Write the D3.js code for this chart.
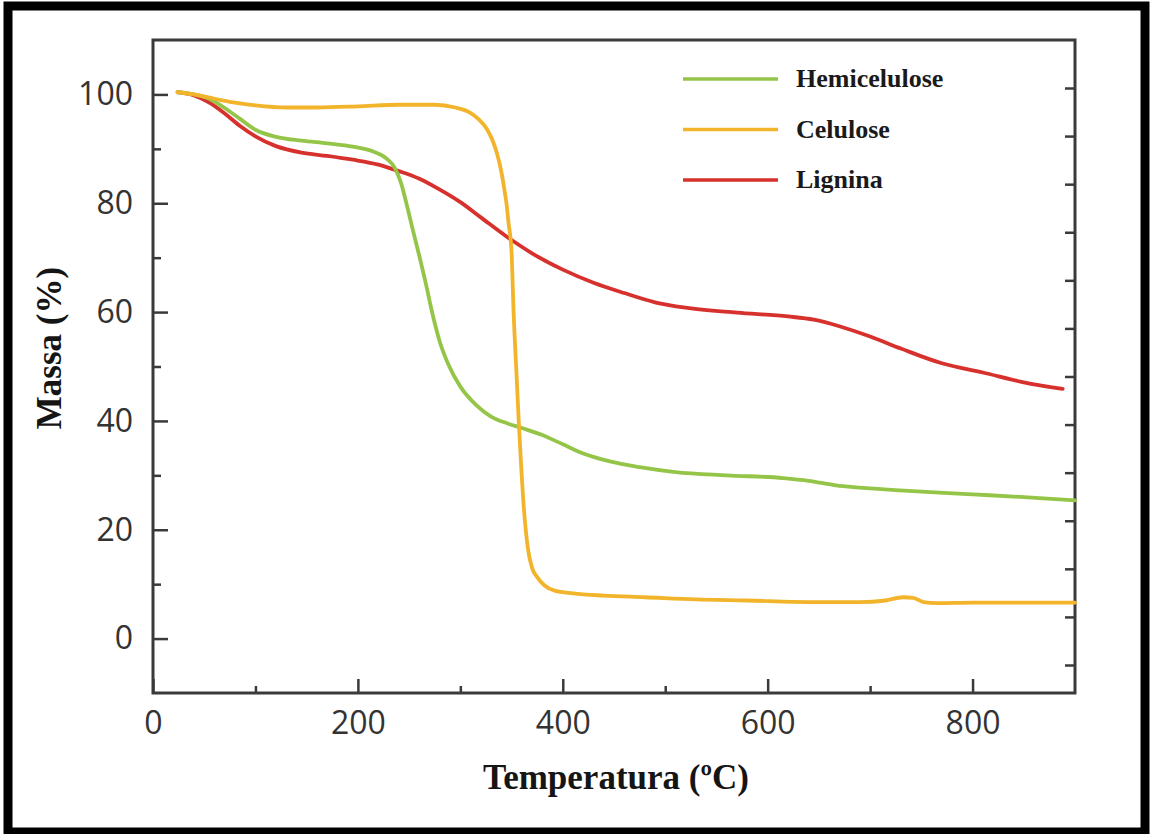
<!DOCTYPE html>
<html>
<head>
<meta charset="utf-8">
<script src="https://cdn.jsdelivr.net/npm/d3@7"></script>
<style>
  body { margin: 0; background: #fff; }
  .tick text { font-family: "Open Sans", sans-serif; font-size: 32px; fill: #333; }
  .tick line { stroke: #3a3a3a; stroke-width: 2.5; }
  .axis-label { font-family: "Liberation Serif", "Times New Roman", serif; font-weight: bold; fill: #151515; }
  .legend text { font-family: "Liberation Serif", "Times New Roman", serif; font-weight: bold; font-size: 26px; fill: #1a1a1a; }
</style>
</head>
<body>
<div id="chart"></div>
<script>
// series names and colours
var seriesNames = ["Hemicelulose", "Celulose", "Lignina"];
var seriesColors = ["#95c548", "#f2b42a", "#d7312e"];

// Hemicelulose
var hemiTemp = [24, 40, 55, 70, 85, 100, 120, 145, 170, 195, 215, 228, 236, 242, 248, 254, 260, 266, 273, 280, 288, 300, 315, 330, 345, 360, 380, 400, 420, 445, 475, 510, 560, 615, 640, 665, 700, 750, 800, 850, 900];
var hemiMass = [100.4, 100.0, 99.2, 97.5, 95.5, 93.5, 92.2, 91.5, 91.0, 90.4, 89.5, 88.2, 86.5, 83.8, 79.5, 74.8, 70.3, 65.5, 59.5, 54.5, 50.5, 46.3, 43.0, 40.8, 39.6, 38.7, 37.4, 35.7, 34.0, 32.6, 31.5, 30.6, 30.0, 29.5, 29.0, 28.2, 27.6, 27.0, 26.5, 26.0, 25.4];

// Celulose
var celTemp = [24, 40, 60, 80, 100, 130, 160, 200, 240, 275, 295, 309, 318, 326, 332, 336, 340, 343, 345, 347, 350, 352, 355, 357, 359, 362, 366, 370, 375, 382, 392, 410, 440, 480, 530, 580, 640, 690, 715, 732, 742, 752, 765, 800, 850, 900];
var celMass = [100.4, 100.0, 99.2, 98.5, 98.0, 97.6, 97.6, 97.8, 98.1, 98.1, 97.6, 96.7, 95.4, 93.6, 91.3, 89.0, 85.8, 82.5, 80.0, 76.5, 71, 60, 48, 40, 33, 24, 16.5, 13, 11.3, 9.8, 8.8, 8.3, 7.9, 7.6, 7.2, 7.0, 6.7, 6.7, 7.0, 7.6, 7.5, 6.7, 6.5, 6.6, 6.6, 6.6];

// Lignina
var ligTemp = [24, 40, 55, 70, 85, 100, 120, 145, 170, 195, 220, 240, 260, 280, 300, 320, 345, 370, 400, 430, 460, 490, 520, 570, 620, 645, 670, 700, 730, 770, 810, 850, 888];
var ligMass = [100.4, 99.8, 98.5, 96.5, 94.2, 92.3, 90.5, 89.3, 88.7, 88.0, 87.1, 85.9, 84.5, 82.5, 80.2, 77.4, 73.9, 70.8, 67.8, 65.4, 63.5, 61.8, 60.8, 59.9, 59.2, 58.6, 57.4, 55.5, 53.3, 50.6, 48.9, 47.1, 45.9];

// axis ticks
var xMajor = [0, 200, 400, 600, 800];
var xMinor = [100, 300, 500, 700];
var yMajor = [0, 20, 40, 60, 80, 100];
var yMinor = [10, 30, 50, 70, 90];
var rightTicks = [0, 1, 2, 3, 4, 5, 6, 7, 8, 9, 10, 11, 12];

var W = 1151, H = 834;
var plotL = 153, plotR = 1075, plotT = 40, plotB = 693;

var svg = d3.select("#chart")
  .append("svg")
    .attr("width", W)
    .attr("height", H);

// outer frame
svg.append("rect")
  .attr("x", 8).attr("y", 6)
  .attr("width", 1137).attr("height", 826)
  .attr("fill", "none")
  .attr("stroke", "#000")
  .attr("stroke-width", 9);

var x = d3.scaleLinear().domain([0, 900]).range([plotL, plotR]);
var y = d3.scaleLinear().domain([-10, 110]).range([plotB, plotT]);
var yRight = d3.scaleLinear().domain([0, 12]).range([665, 88]);

// x axis
svg.append("g")
  .attr("transform", "translate(0," + plotB + ")")
  .call(d3.axisBottom(x).tickValues(xMajor).tickSize(-14).tickPadding(18))
  .call(function (g) { g.select(".domain").remove(); });
svg.append("g")
  .attr("transform", "translate(0," + plotB + ")")
  .call(d3.axisBottom(x).tickValues(xMinor).tickSize(-7).tickFormat(""))
  .call(function (g) { g.select(".domain").remove(); });

// y axis
svg.append("g")
  .attr("transform", "translate(" + plotL + ",0)")
  .call(d3.axisLeft(y).tickValues(yMajor).tickSize(-15).tickPadding(20))
  .call(function (g) { g.select(".domain").remove(); });
svg.append("g")
  .attr("transform", "translate(" + plotL + ",0)")
  .call(d3.axisLeft(y).tickValues(yMinor).tickSize(-8).tickFormat(""))
  .call(function (g) { g.select(".domain").remove(); });

// right side ticks
svg.append("g")
  .attr("transform", "translate(" + plotR + ",0)")
  .call(d3.axisRight(yRight).tickValues(rightTicks).tickSize(-10).tickFormat(""))
  .call(function (g) { g.select(".domain").remove(); });

// plot frame
svg.append("rect")
  .attr("x", plotL).attr("y", plotT)
  .attr("width", plotR - plotL).attr("height", plotB - plotT)
  .attr("fill", "none")
  .attr("stroke", "#3a3a3a")
  .attr("stroke-width", 3);

var series = [
  { name: seriesNames[0], color: seriesColors[0], t: hemiTemp, m: hemiMass },
  { name: seriesNames[1], color: seriesColors[1], t: celTemp, m: celMass },
  { name: seriesNames[2], color: seriesColors[2], t: ligTemp, m: ligMass }
];

var line = d3.line()
  .x(function (d) { return x(d[0]); })
  .y(function (d) { return y(d[1]); })
  .curve(d3.curveMonotoneX);

// draw red first so green/yellow sit on top like the original
[2, 0, 1].forEach(function (i) {
  var s = series[i];
  svg.append("path")
    .datum(d3.zip(s.t, s.m))
    .attr("fill", "none")
    .attr("stroke", s.color)
    .attr("stroke-width", 3.8)
    .attr("stroke-linejoin", "round")
    .attr("stroke-linecap", "round")
    .attr("d", line);
});

// legend
var legend = svg.append("g").attr("class", "legend");
series.forEach(function (s, i) {
  var ly = 79 + i * 50.5;
  legend.append("line")
    .attr("x1", 683).attr("x2", 778)
    .attr("y1", ly).attr("y2", ly)
    .attr("stroke", s.color)
    .attr("stroke-width", 3.5);
  legend.append("text")
    .attr("x", 796)
    .attr("y", ly + 8)
    .text(s.name);
});

// axis labels
svg.append("text")
  .attr("class", "axis-label")
  .attr("x", (plotL + plotR) / 2 + 2)
  .attr("y", 789)
  .attr("font-size", "35px")
  .attr("text-anchor", "middle")
  .text("Temperatura (ºC)");

svg.append("text")
  .attr("class", "axis-label")
  .attr("transform", "translate(61,348) rotate(-90)")
  .attr("font-size", "35px")
  .attr("text-anchor", "middle")
  .text("Massa (%)");
</script>
</body>
</html>
